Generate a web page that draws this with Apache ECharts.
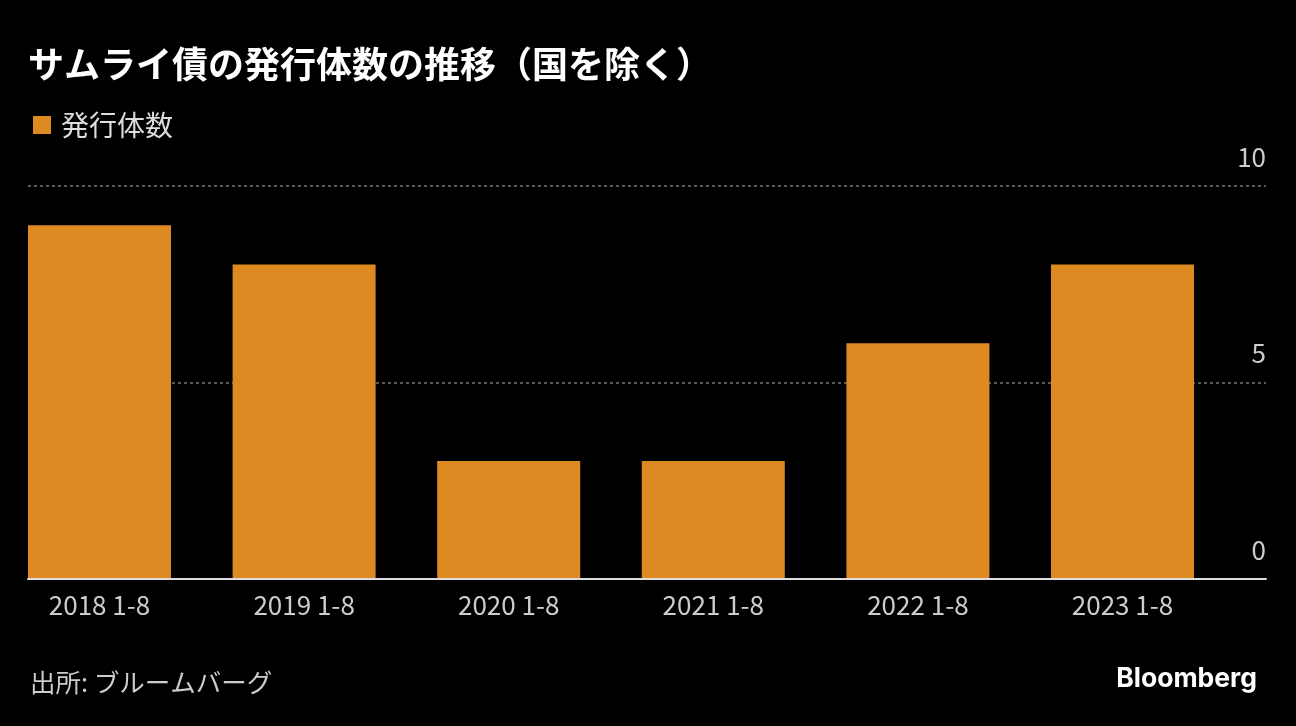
<!DOCTYPE html>
<html><head><meta charset="utf-8">
<script src="https://cdn.jsdelivr.net/npm/echarts@6/dist/echarts.min.js"></script>
<style>html,body{margin:0;padding:0;background:#000;}#c{width:1296px;height:726px;}</style>
</head><body><div id="c"></div>
<script>
const categories = ['2018 1-8','2019 1-8','2020 1-8','2021 1-8','2022 1-8','2023 1-8'];
const values = [9, 8, 3, 3, 6, 8];
const seriesName = '発行体数';
const titleText = 'サムライ債の発行体数の推移（国を除く）';
const sourceText = '出所: ブルームバーグ';
const FONT = '"Noto Sans CJK JP","Noto Sans",sans-serif';
const chart = echarts.init(document.getElementById('c'));
chart.setOption({
  backgroundColor:'#000',
  animation:false,
  title:{text:titleText,left:23,top:41,padding:5,textStyle:{color:'#fff',fontSize:36,fontWeight:'bold',fontFamily:FONT}},
  legend:{left:28,top:106,itemWidth:18,itemHeight:18,itemGap:10,icon:'rect',
    textStyle:{color:'#ddd',fontSize:28,fontFamily:FONT,padding:[0,0,0,5]},data:[seriesName]},
  grid:[
    {left:99.5,width:1023,top:186,height:393},
    {left:28,right:30,top:186,height:393}
  ],
  xAxis:[
    {type:'category',gridIndex:0,data:categories,boundaryGap:false,axisLine:{show:false},axisTick:{show:false},
      axisLabel:{color:'#ccc',fontSize:26,fontFamily:FONT,margin:13}},
    {type:'category',gridIndex:1,data:[''],axisLine:{show:true,lineStyle:{color:'#ddd',width:2}},
      axisTick:{show:false},axisLabel:{show:false},z:5}
  ],
  yAxis:[
    {type:'value',gridIndex:0,min:0,max:10,show:false},
    {type:'value',gridIndex:1,min:0,max:10,interval:5,position:'right',
      axisLine:{show:false},axisTick:{show:false},
      splitLine:{show:true,lineStyle:{color:'#777',type:[3,3],width:1.5}},
      axisLabel:{inside:true,margin:0,color:'#ccc',fontSize:26,fontFamily:FONT,verticalAlign:'bottom',padding:[0,0,16,0]}}
  ],
  series:[{name:seriesName,type:'bar',xAxisIndex:0,yAxisIndex:0,data:values,barWidth:143,
    itemStyle:{color:'#dd8a23'},z:3}],
  graphic:[
    {type:'text',left:30,top:670,style:{text:sourceText,fill:'#ccc',font:'25.5px '+FONT}},
    {type:'text',right:39,top:666,style:{text:'Bloomberg',fill:'#fff',font:'bold 26.5px Inter, "Noto Sans", sans-serif'}}
  ]
});
</script></body></html>
